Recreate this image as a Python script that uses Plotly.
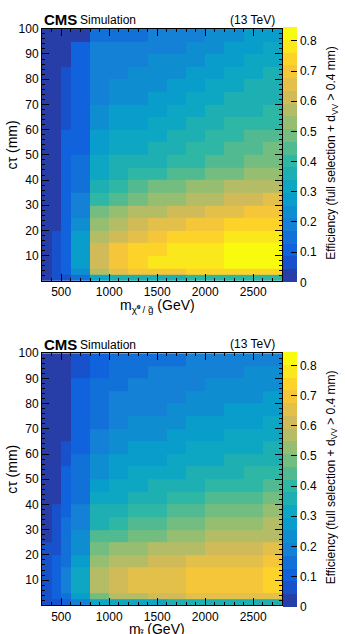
import numpy as np
import plotly.graph_objects as go

# ---------------- data ----------------
mass_edges = [300, 400, 500, 600, 800, 1000, 1200, 1400, 1600, 1800, 2000, 2200, 2400, 2600, 2800]
ctau_edges = [0, 2.5, 5, 10, 15, 20, 25, 30, 35, 40, 45, 50, 55, 60, 65, 70, 75, 80, 85, 90, 95, 100]

# efficiency per mass column, listed from lowest to highest ctau bin (top panel: neutralino/gluino)
eff_top_cols = [
    [0.03, 0.03, 0.03, 0.03, 0.03, 0.03, 0.03, 0.03, 0.03, 0.03, 0.03, 0.03, 0.03, 0.03, 0.03, 0.03, 0.03, 0.03, 0.03, 0.03, 0.02],
    [0.05, 0.07, 0.08, 0.08, 0.07, 0.04, 0.035, 0.035, 0.035, 0.035, 0.035, 0.03, 0.03, 0.03, 0.03, 0.03, 0.03, 0.03, 0.03, 0.03, 0.03],
    [0.07, 0.10, 0.11, 0.11, 0.11, 0.10, 0.10, 0.095, 0.09, 0.09, 0.088, 0.086, 0.086, 0.08, 0.075, 0.07, 0.065, 0.06, 0.04, 0.035, 0.03],
    [0.13, 0.22, 0.27, 0.28, 0.27, 0.23, 0.20, 0.17, 0.16, 0.14, 0.13, 0.12, 0.11, 0.11, 0.10, 0.10, 0.10, 0.10, 0.09, 0.09, 0.04],
    [0.33, 0.55, 0.62, 0.62, 0.58, 0.53, 0.48, 0.42, 0.37, 0.33, 0.30, 0.28, 0.26, 0.24, 0.22, 0.21, 0.20, 0.19, 0.18, 0.17, 0.13],
    [0.36, 0.64, 0.71, 0.70, 0.63, 0.57, 0.51, 0.45, 0.41, 0.37, 0.34, 0.32, 0.30, 0.28, 0.26, 0.24, 0.22, 0.21, 0.20, 0.18, 0.15],
    [0.37, 0.68, 0.75, 0.74, 0.67, 0.61, 0.55, 0.49, 0.44, 0.40, 0.36, 0.33, 0.31, 0.29, 0.27, 0.25, 0.23, 0.22, 0.21, 0.19, 0.16],
    [0.38, 0.70, 0.77, 0.76, 0.70, 0.64, 0.58, 0.52, 0.47, 0.42, 0.38, 0.35, 0.33, 0.31, 0.29, 0.27, 0.25, 0.23, 0.22, 0.20, 0.17],
    [0.38, 0.71, 0.78, 0.77, 0.72, 0.66, 0.60, 0.54, 0.49, 0.44, 0.40, 0.37, 0.35, 0.33, 0.31, 0.29, 0.27, 0.25, 0.23, 0.21, 0.19],
    [0.39, 0.72, 0.79, 0.78, 0.74, 0.68, 0.62, 0.56, 0.51, 0.46, 0.42, 0.39, 0.37, 0.35, 0.33, 0.31, 0.29, 0.27, 0.25, 0.23, 0.21],
    [0.39, 0.73, 0.80, 0.80, 0.76, 0.70, 0.64, 0.58, 0.53, 0.48, 0.44, 0.41, 0.39, 0.37, 0.35, 0.33, 0.31, 0.29, 0.27, 0.25, 0.23],
    [0.40, 0.74, 0.81, 0.81, 0.77, 0.72, 0.66, 0.60, 0.55, 0.50, 0.46, 0.43, 0.41, 0.39, 0.36, 0.34, 0.32, 0.30, 0.29, 0.27, 0.25],
    [0.40, 0.75, 0.83, 0.82, 0.78, 0.73, 0.68, 0.62, 0.57, 0.52, 0.48, 0.45, 0.43, 0.41, 0.38, 0.36, 0.34, 0.32, 0.30, 0.29, 0.27],
    [0.41, 0.76, 0.84, 0.83, 0.79, 0.74, 0.69, 0.64, 0.59, 0.54, 0.50, 0.47, 0.44, 0.42, 0.40, 0.38, 0.36, 0.34, 0.32, 0.30, 0.28],
]

# bottom panel
eff_bot_cols = [
    [0.05, 0.06, 0.06, 0.06, 0.06, 0.05, 0.035, 0.03, 0.03, 0.03, 0.03, 0.03, 0.03, 0.03, 0.03, 0.03, 0.03, 0.03, 0.03, 0.03, 0.025],
    [0.08, 0.10, 0.10, 0.10, 0.09, 0.08, 0.07, 0.06, 0.045, 0.04, 0.035, 0.035, 0.03, 0.03, 0.03, 0.03, 0.03, 0.03, 0.03, 0.03, 0.03],
    [0.12, 0.16, 0.17, 0.17, 0.16, 0.15, 0.14, 0.13, 0.12, 0.11, 0.10, 0.09, 0.08, 0.07, 0.04, 0.035, 0.035, 0.035, 0.03, 0.03, 0.03],
    [0.20, 0.28, 0.30, 0.30, 0.28, 0.25, 0.22, 0.20, 0.18, 0.16, 0.15, 0.14, 0.13, 0.12, 0.11, 0.10, 0.10, 0.09, 0.09, 0.08, 0.07],
    [0.30, 0.50, 0.57, 0.57, 0.53, 0.48, 0.43, 0.38, 0.34, 0.30, 0.27, 0.25, 0.22, 0.20, 0.18, 0.16, 0.15, 0.14, 0.13, 0.12, 0.10],
    [0.32, 0.56, 0.62, 0.61, 0.56, 0.51, 0.46, 0.41, 0.37, 0.33, 0.30, 0.28, 0.26, 0.24, 0.22, 0.20, 0.18, 0.17, 0.16, 0.15, 0.13],
    [0.33, 0.59, 0.64, 0.64, 0.59, 0.54, 0.49, 0.44, 0.40, 0.36, 0.32, 0.30, 0.28, 0.26, 0.24, 0.22, 0.20, 0.19, 0.18, 0.16, 0.14],
    [0.33, 0.60, 0.65, 0.65, 0.60, 0.55, 0.50, 0.46, 0.42, 0.38, 0.34, 0.31, 0.29, 0.27, 0.25, 0.23, 0.21, 0.20, 0.19, 0.17, 0.15],
    [0.34, 0.61, 0.66, 0.66, 0.62, 0.57, 0.52, 0.48, 0.44, 0.40, 0.36, 0.33, 0.31, 0.28, 0.26, 0.24, 0.22, 0.21, 0.20, 0.18, 0.16],
    [0.34, 0.64, 0.70, 0.69, 0.64, 0.59, 0.54, 0.50, 0.45, 0.41, 0.38, 0.35, 0.32, 0.30, 0.28, 0.26, 0.24, 0.22, 0.21, 0.19, 0.17],
    [0.35, 0.65, 0.70, 0.70, 0.65, 0.60, 0.55, 0.51, 0.47, 0.43, 0.39, 0.36, 0.33, 0.31, 0.29, 0.27, 0.25, 0.23, 0.22, 0.20, 0.18],
    [0.35, 0.65, 0.71, 0.70, 0.66, 0.62, 0.57, 0.52, 0.48, 0.44, 0.41, 0.37, 0.35, 0.32, 0.30, 0.28, 0.26, 0.24, 0.23, 0.21, 0.19],
    [0.35, 0.66, 0.71, 0.71, 0.67, 0.63, 0.58, 0.53, 0.49, 0.45, 0.42, 0.39, 0.36, 0.33, 0.31, 0.29, 0.27, 0.25, 0.24, 0.22, 0.20],
    [0.36, 0.67, 0.74, 0.74, 0.69, 0.64, 0.59, 0.55, 0.51, 0.47, 0.43, 0.40, 0.37, 0.34, 0.32, 0.30, 0.28, 0.26, 0.25, 0.23, 0.21],
]

x_ticks = [500, 1000, 1500, 2000, 2500]
y_ticks = [10, 20, 30, 40, 50, 60, 70, 80, 90, 100]
z_ticks = [0, 0.1, 0.2, 0.3, 0.4, 0.5, 0.6, 0.7, 0.8]
z_max = 0.845
n_levels = 20

# ---------------- palette (ROOT kBird, 20 contour levels) ----------------
stops = [0.0, 0.125, 0.25, 0.375, 0.5, 0.625, 0.75, 0.875, 1.0]
red = [0.2082, 0.0592, 0.0780, 0.0232, 0.1802, 0.5301, 0.8186, 0.9956, 0.9764]
green = [0.1664, 0.3599, 0.5041, 0.6419, 0.7178, 0.7492, 0.7328, 0.7862, 0.9832]
blue = [0.5293, 0.8684, 0.8385, 0.7914, 0.6425, 0.4662, 0.3499, 0.1968, 0.0539]


def bird(f):
    r = np.interp(f, stops, red)
    g = np.interp(f, stops, green)
    b = np.interp(f, stops, blue)
    return "rgb(%d,%d,%d)" % (round(r * 255), round(g * 255), round(b * 255))


colorscale = []
for i in range(n_levels):
    idx = int((i + 0.99) * 255 / n_levels)
    c = bird(min(idx, 254) / 254)
    colorscale.append([i / n_levels, c])
    colorscale.append([(i + 1) / n_levels, c])

FONT = "Liberation Sans, Arial, Helvetica, sans-serif"
W, H = 345, 634

# pixel geometry
x0, x1 = 42, 282
panels = [(22, 277), (350, 605)]


def fy(py):
    return 1 - py / H


fig = go.Figure()
z_top = np.array(eff_top_cols).T
z_bot = np.array(eff_bot_cols).T

for k, (z, (pt, pb)) in enumerate(zip([z_top, z_bot], panels)):
    fig.add_trace(go.Heatmap(
        x=mass_edges, y=ctau_edges, z=z,
        xaxis="x" if k == 0 else "x2", yaxis="y" if k == 0 else "y2",
        colorscale=colorscale, zmin=0, zmax=z_max,
        colorbar=dict(
            x=283 / W, xanchor="left", xpad=0,
            y=fy((pt + pb) / 2), yanchor="middle", ypad=0,
            len=pb - pt, lenmode="pixels", thickness=14, thicknessmode="pixels",
            outlinewidth=0, tickvals=z_ticks, ticktext=[f"{t:g}" for t in z_ticks],
            ticks="inside", ticklen=6, tickcolor="black", tickwidth=1,
            tickfont=dict(family=FONT, size=12, color="black"),
        ),
        hoverinfo="skip",
    ))

axis_common = dict(
    showline=True, linecolor="black", linewidth=1, mirror="allticks",
    ticks="inside", tickcolor="black", tickwidth=1, showgrid=False, zeroline=False,
    tickfont=dict(family=FONT, size=12, color="black"),
)

layout = dict(
    width=W, height=H, margin=dict(l=0, r=0, t=0, b=0),
    paper_bgcolor="white", plot_bgcolor="white", showlegend=False,
    font=dict(family=FONT, color="black"),
)
for k, (pt, pb) in enumerate(panels):
    sx = "" if k == 0 else "2"
    layout["xaxis" + sx] = dict(
        axis_common, domain=[x0 / W, x1 / W], range=[300, 2800], anchor="y" + sx,
        tickvals=x_ticks, ticklen=7,
        minor=dict(ticks="inside", dtick=100, tick0=0, ticklen=3, tickcolor="black", tickwidth=1),
    )
    layout["yaxis" + sx] = dict(
        axis_common, domain=[fy(pb), fy(pt)], range=[0, 100], anchor="x" + sx,
        tickvals=y_ticks, ticklen=7,
        minor=dict(ticks="inside", dtick=2, tick0=0, ticklen=3, tickcolor="black", tickwidth=1),
    )
fig.update_layout(**layout)

ann = []
x_titles = ["m<sub>χ\u0303\u2070 / g\u0303</sub> (GeV)", "m<sub>t\u0303</sub> (GeV)"]
for k, (pt, pb) in enumerate(panels):
    ann.append(dict(text="<b>CMS</b>", x=x0 / W, y=fy(pt - 9), xref="paper", yref="paper",
                    xanchor="left", yanchor="middle", showarrow=False,
                    font=dict(family=FONT, size=15, color="black")))
    ann.append(dict(text="Simulation", x=78 / W, y=fy(pt - 8.5), xref="paper", yref="paper",
                    xanchor="left", yanchor="middle", showarrow=False,
                    font=dict(family=FONT, size=12, color="black")))
    ann.append(dict(text="(13 TeV)", x=277 / W, y=fy(pt - 9), xref="paper", yref="paper",
                    xanchor="right", yanchor="middle", showarrow=False,
                    font=dict(family=FONT, size=12, color="black")))
    ann.append(dict(text="cτ (mm)", x=12 / W, y=fy(pt + 118), xref="paper", yref="paper",
                    xanchor="center", yanchor="middle", textangle=-90, showarrow=False,
                    font=dict(family=FONT, size=14, color="black")))
    ann.append(dict(text=x_titles[k], x=157 / W, y=fy(pb + 25), xref="paper", yref="paper",
                    xanchor="center", yanchor="middle", showarrow=False,
                    font=dict(family=FONT, size=14, color="black")))
    ann.append(dict(text="Efficiency (full selection + d<sub>VV</sub> > 0.4 mm)", x=332 / W,
                    y=fy((pt + pb) / 2 - 2), xref="paper", yref="paper",
                    xanchor="center", yanchor="middle", textangle=-90, showarrow=False,
                    font=dict(family=FONT, size=12, color="black")))
fig.update_layout(annotations=ann)

fig.write_html("out.html")
